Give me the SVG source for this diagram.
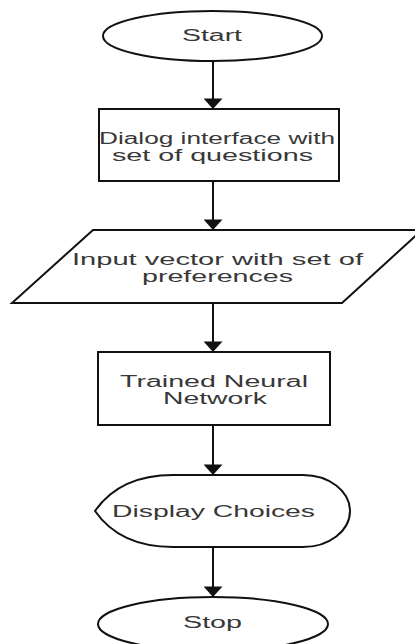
<svg xmlns="http://www.w3.org/2000/svg" width="415" height="644" viewBox="0 0 415 644">
<style>
.shape{fill:#ffffff;stroke:#111111;stroke-width:2}
.edge{fill:none;stroke:#111111;stroke-width:2}
.lbl{font-family:"Liberation Sans",Arial,sans-serif;font-size:16px;fill:#383838;text-anchor:middle}
</style>
<defs>
<marker id="ah" markerUnits="userSpaceOnUse" markerWidth="11" markerHeight="19" viewBox="0 -9 10 18" refX="10" refY="0" orient="auto">
<path d="M0,-9 L10,0 L0,9 z" fill="#111111"/>
</marker>
</defs>
<rect width="415" height="644" fill="#ffffff"/>
<g id="connectors">
<line class="edge" x1="213" y1="61" x2="213" y2="109" marker-end="url(#ah)"/>
<line class="edge" x1="213" y1="181" x2="213" y2="230" marker-end="url(#ah)"/>
<line class="edge" x1="213" y1="303" x2="213" y2="352" marker-end="url(#ah)"/>
<line class="edge" x1="213" y1="425" x2="213" y2="475" marker-end="url(#ah)"/>
<line class="edge" x1="213" y1="547" x2="213" y2="597" marker-end="url(#ah)"/>
</g>
<g id="start">
<ellipse class="shape" cx="212.5" cy="36" rx="109.5" ry="25"/>
<text class="lbl" x="212" y="41" textLength="60" lengthAdjust="spacingAndGlyphs">Start</text>
</g>
<g id="dialog">
<rect class="shape" x="99" y="109" width="240" height="72"/>
<text class="lbl" x="217" y="144" textLength="236" lengthAdjust="spacingAndGlyphs">Dialog interface with</text>
<text class="lbl" x="212.5" y="161" textLength="201" lengthAdjust="spacingAndGlyphs">set of questions</text>
</g>
<g id="input">
<polygon class="shape" points="93,230 422,230 342,303 12,303"/>
<text class="lbl" x="217.5" y="265" textLength="291" lengthAdjust="spacingAndGlyphs">Input vector with set of</text>
<text class="lbl" x="217.5" y="282" textLength="151" lengthAdjust="spacingAndGlyphs">preferences</text>
</g>
<g id="network">
<rect class="shape" x="98" y="352" width="232" height="73"/>
<text class="lbl" x="214" y="387" textLength="188" lengthAdjust="spacingAndGlyphs">Trained Neural</text>
<text class="lbl" x="215" y="404" textLength="104" lengthAdjust="spacingAndGlyphs">Network</text>
</g>
<g id="display">
<path class="shape" d="M173,475 L303,475 A47,36 0 0 1 303,547 L173,547 Q120,547 95,511 Q120,475 173,475 Z"/>
<text class="lbl" x="213.5" y="517" textLength="203" lengthAdjust="spacingAndGlyphs">Display Choices</text>
</g>
<g id="stop">
<ellipse class="shape" cx="213" cy="624" rx="115" ry="27"/>
<text class="lbl" x="212.5" y="628" textLength="59" lengthAdjust="spacingAndGlyphs">Stop</text>
</g>
</svg>
